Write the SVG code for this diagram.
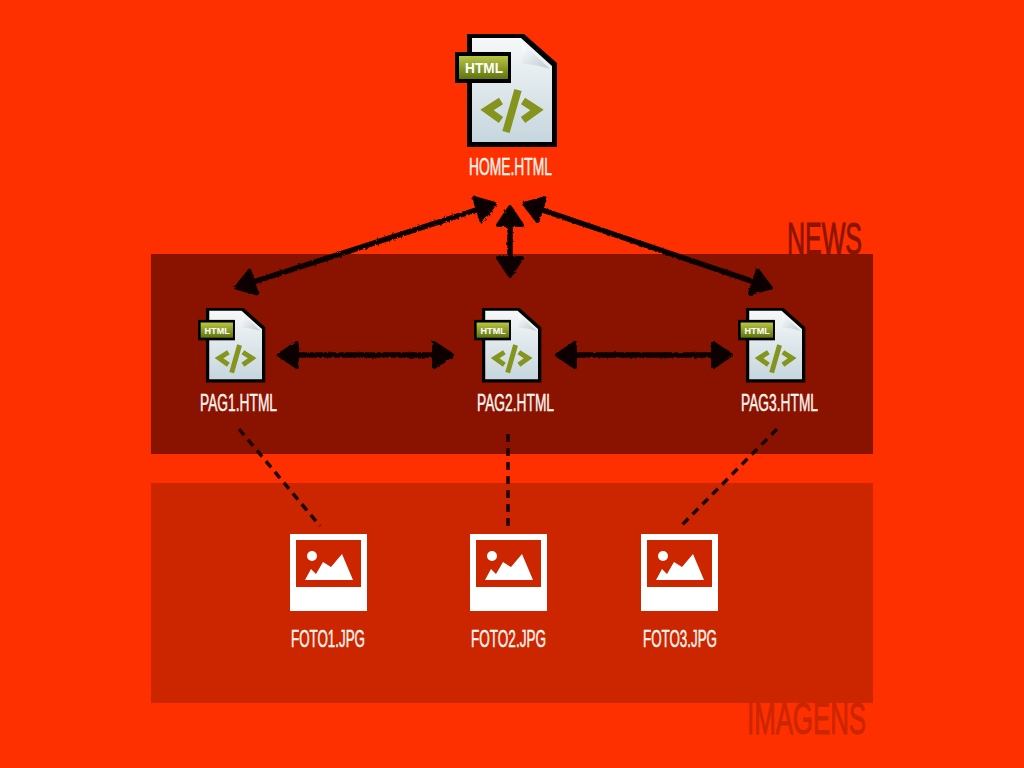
<svg xmlns="http://www.w3.org/2000/svg" width="1024" height="768" viewBox="0 0 1024 768">
<style>
.lbl{font-family:"Liberation Sans Narrow","Liberation Sans",Arial,sans-serif;font-size:24px;fill:#fff4ee;stroke:#fff4ee;stroke-width:.5}
.big{font-family:"Liberation Sans Narrow","Liberation Sans",Arial,sans-serif;font-size:44px;stroke-width:1}
.arrow{fill:none;stroke:#0c0400;stroke-width:5.500;marker-start:url(#head);marker-end:url(#head)}
.dash{fill:none;stroke:#1a0500;stroke-width:3.500;stroke-dasharray:8 6}
.code{fill:none;stroke:#84941c;stroke-width:7.500}
</style>
<defs>
<linearGradient id="paper" x1="0" y1="0" x2="0" y2="1"><stop offset="0" stop-color="#f6f8f8"/><stop offset="1" stop-color="#c6d6de"/></linearGradient>
<linearGradient id="fold" x1="0" y1="0" x2="1" y2="1"><stop offset="0" stop-color="#ffffff"/><stop offset="1" stop-color="#bcc9d2"/></linearGradient>
<linearGradient id="tag" x1="0" y1="0" x2="0" y2="1"><stop offset="0" stop-color="#b8c644"/><stop offset="1" stop-color="#60740e"/></linearGradient>
<marker id="head" markerUnits="userSpaceOnUse" viewBox="-4 -17 30 34" refX="17" refY="0" markerWidth="30" markerHeight="34" orient="auto-start-reverse"><path d="M1,-12 L19,0 L1,12 Z" fill="#0c0400" stroke="#0c0400" stroke-width="4" stroke-linejoin="round"/></marker>
<filter id="rough" x="-10%" y="-10%" width="120%" height="120%"><feTurbulence type="fractalNoise" baseFrequency="0.35" numOctaves="2" seed="4"/><feDisplacementMap in="SourceGraphic" scale="3"/></filter>
<g id="htmlIcon">
<path d="M12,0 H69 L102,29 V113 H12 Z" fill="#000"/>
<path d="M17,4 H66 L97,32 V108 H17 Z" fill="url(#paper)"/>
<path d="M67,9 L95,35 Q80,30 67,30 Z" fill="url(#fold)"/>
<rect x="0" y="18" width="56" height="31" fill="#000"/>
<rect x="4" y="22" width="49" height="23" fill="url(#tag)"/>
<text x="10" y="39.3" textLength="38" lengthAdjust="spacingAndGlyphs" font-family="'Liberation Sans',Arial,sans-serif" font-weight="700" font-size="15" fill="#fff">HTML</text>
<path class="code" d="M46,67 L32,76 L46,86"/>
<path class="code" d="M63,56 L51,98"/>
<path class="code" d="M68,67 L82,76 L68,86"/>
</g>
<g id="photoIcon">
<path d="M0,0 H77 V77 H0 Z M6,6 V53 H71 V6 Z" fill="#fff" fill-rule="evenodd"/>
<circle cx="22" cy="22" r="5" fill="#fff"/>
<path d="M15,46 L21,35 L26,40 L33,28 L41,33 L52,20 L63,46 Z" fill="#fff"/>
</g>
</defs>
<rect width="1024" height="768" fill="#ff3000"/>
<g id="panel-news">
<text class="big" x="787" y="254" textLength="75" lengthAdjust="spacingAndGlyphs" fill="#8a1400" stroke="#8a1400">NEWS</text>
<rect x="151" y="254" width="722" height="200" fill="#8a1300"/>
</g>
<g id="panel-imagens">
<rect x="151" y="483" width="722" height="220" fill="#cc2600"/>
<text class="big" x="747" y="734" textLength="119" lengthAdjust="spacingAndGlyphs" fill="#cc2600" stroke="#cc2600">IMAGENS</text>
</g>
<g id="connectors">
<g filter="url(#rough)">
<path class="arrow" d="M238,287 L493,204.500"/>
<path class="arrow" d="M510,209 V274"/>
<path class="arrow" d="M526,204.500 L769,287"/>
<path class="arrow" d="M281,355 H450"/>
<path class="arrow" d="M559,355 H729"/>
</g>
<path class="dash" d="M239,429 L320,526"/>
<path class="dash" d="M508,434 V526"/>
<path class="dash" d="M777,429 L681,526"/>
</g>
<g id="home"><use href="#htmlIcon" transform="translate(455,34)"/><text class="lbl" x="469" y="175" textLength="83" lengthAdjust="spacingAndGlyphs">HOME.HTML</text></g>
<g id="pag1"><use href="#htmlIcon" transform="translate(198,308) scale(.66)"/><text class="lbl" x="200" y="411" textLength="77" lengthAdjust="spacingAndGlyphs">PAG1.HTML</text></g>
<g id="pag2"><use href="#htmlIcon" transform="translate(474,308) scale(.66)"/><text class="lbl" x="477" y="411" textLength="77" lengthAdjust="spacingAndGlyphs">PAG2.HTML</text></g>
<g id="pag3"><use href="#htmlIcon" transform="translate(738,308) scale(.66)"/><text class="lbl" x="741" y="411" textLength="77" lengthAdjust="spacingAndGlyphs">PAG3.HTML</text></g>
<g id="foto1"><use href="#photoIcon" x="290" y="534"/><text class="lbl" x="291" y="647" textLength="74" lengthAdjust="spacingAndGlyphs">FOTO1.JPG</text></g>
<g id="foto2"><use href="#photoIcon" x="470" y="534"/><text class="lbl" x="471" y="647" textLength="75" lengthAdjust="spacingAndGlyphs">FOTO2.JPG</text></g>
<g id="foto3"><use href="#photoIcon" x="641" y="534"/><text class="lbl" x="643" y="647" textLength="74" lengthAdjust="spacingAndGlyphs">FOTO3.JPG</text></g>
</svg>
